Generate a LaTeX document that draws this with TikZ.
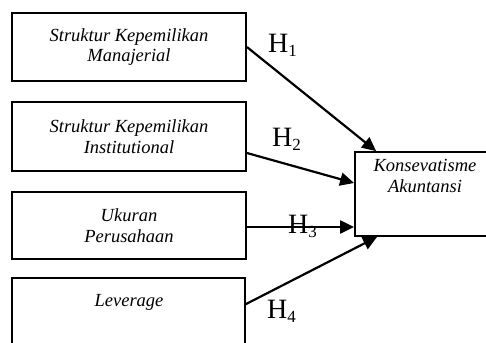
\documentclass[tikz,border=0pt]{standalone}
\usepackage{fontspec}
\setmainfont{Liberation Serif}
\usetikzlibrary{arrows.meta,calc}
\newcommand\hsub[1]{H\raisebox{-4pt}{\fontsize{17}{17}\selectfont #1}}
\begin{document}
\begin{tikzpicture}[x=1pt,y=-1pt,
  box/.style={draw, line width=1.8pt, rectangle, inner sep=0pt, align=center,
    font=\itshape\fontsize{18.5}{20.5}\selectfont},
  txt/.style={inner sep=0pt, anchor=base, font=\itshape\fontsize{18.5}{20.5}\selectfont},
  hyp/.style={inner sep=0pt, anchor=base west, font=\fontsize{28}{28}\selectfont},
  link/.style={line width=2.2pt, -{Triangle[length=14pt,width=13pt]}}]
\useasboundingbox (0,0) rectangle (486,342);
\clip (0,0) rectangle (486,342);
\fill[white] (0,0) rectangle (486,342);
\node[box, minimum width=234pt, minimum height=68pt] (b1) at (129,47) {Struktur Kepemilikan\\Manajerial};
\node[box, minimum width=234pt, minimum height=69pt] (b2) at (129,136.5) {Struktur Kepemilikan\\Institutional};
\node[box, minimum width=234pt, minimum height=67pt] (b3) at (129,225.5) {Ukuran\\Perusahaan};
\node[box, minimum width=233pt, minimum height=82pt] (b4) at (128.5,319) {};
\node[txt] (t4) at (129,306) {Leverage};
\node[box, minimum width=145pt, minimum height=84pt] (kb) at (427.5,194) {};
\node[txt] (k1) at (425,171) {Konsevatisme};
\node[txt] (k2) at (425,192) {Akuntansi};
\coordinate (e1) at ($(kb.north west)+(22,0)$);
\coordinate (s2) at ($(b2.east)+(0,16.5)$);
\coordinate (e2) at ($(kb.west)+(0,-11)$);
\coordinate (s3) at ($(b3.east)+(0,1.5)$);
\coordinate (s4) at ($(b4.north east)+(0,27)$);
\coordinate (e4) at ($(kb.south west)+(23,0)$);
\draw[link] (b1.east) -- (e1);
\draw[link] (s2) -- (e2);
\draw[link] (s3) -- (s3 -| kb.west);
\draw[link] (s4) -- (e4);
\node[hyp] (h1) at (268,53) {\hsub{1}};
\node[hyp] (h2) at (272,146) {\hsub{2}};
\node[hyp] (h3) at (288,233) {\hsub{3}};
\node[hyp] (h4) at (267,318) {\hsub{4}};
\end{tikzpicture}
\end{document}
